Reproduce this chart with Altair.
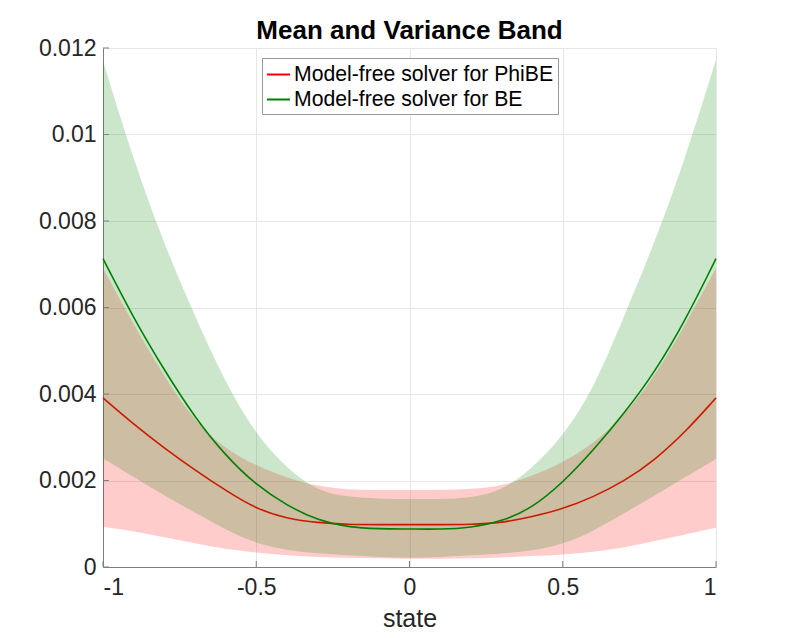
import altair as alt
import pandas as pd

# state grid
x = [-1.0, -0.9, -0.8, -0.7, -0.6, -0.5, -0.4, -0.3, -0.2, -0.1, 0.0,
     0.1, 0.2, 0.3, 0.4, 0.5, 0.6, 0.7, 0.8, 0.9, 1.0]

# Model-free solver for PhiBE
phibe_mean = [0.00391, 0.00330, 0.00275, 0.00224, 0.00177, 0.00134, 0.00112, 0.00102, 0.000985, 0.00098, 0.00098,
              0.00098, 0.000985, 0.00102, 0.00116, 0.00134, 0.00162, 0.00198, 0.00247, 0.00312, 0.00391]
phibe_upper = [0.00691, 0.00560, 0.00440, 0.00335, 0.00272, 0.00234, 0.00206, 0.00186, 0.00179, 0.00178, 0.00178,
               0.00178, 0.00180, 0.00187, 0.00210, 0.00241, 0.00285, 0.00350, 0.00440, 0.00560, 0.00691]
phibe_lower = [0.00093, 0.00083, 0.00069, 0.00055, 0.00041, 0.00033, 0.00027, 0.00023, 0.00021, 0.00020, 0.00019,
               0.00019, 0.00020, 0.00022, 0.00025, 0.00029, 0.00034, 0.00045, 0.00060, 0.00075, 0.00091]

# Model-free solver for BE
be_mean = [0.00713, 0.00575, 0.00455, 0.00345, 0.00257, 0.00189, 0.00142, 0.00108, 0.00092, 0.00088, 0.00088,
           0.00087, 0.00091, 0.00105, 0.00136, 0.00195, 0.00270, 0.00355, 0.00450, 0.00570, 0.00713]
be_upper = [0.01170, 0.00940, 0.00745, 0.00580, 0.00425, 0.00305, 0.00228, 0.00175, 0.00162, 0.00158, 0.00157,
            0.00157, 0.00160, 0.00175, 0.00228, 0.00302, 0.00410, 0.00580, 0.00750, 0.00945, 0.01173]
be_lower = [0.00251, 0.00208, 0.00165, 0.00126, 0.00086, 0.00054, 0.00039, 0.00031, 0.00027, 0.00023, 0.00021,
            0.00023, 0.00027, 0.00031, 0.00037, 0.00052, 0.00083, 0.00124, 0.00165, 0.00208, 0.00250]

series_names = ["Model-free solver for PhiBE", "Model-free solver for BE"]
series_colors = ["#ff0000", "#008000"]

x_ticks = [-1, -0.5, 0, 0.5, 1]
y_ticks = [0, 0.002, 0.004, 0.006, 0.008, 0.01, 0.012]

W, H = 613, 519
FONT = "Liberation Sans"

df = pd.DataFrame({
    "x": x,
    "phibe_mean": phibe_mean, "phibe_upper": phibe_upper, "phibe_lower": phibe_lower,
    "be_mean": be_mean, "be_upper": be_upper, "be_lower": be_lower,
})
df_phibe = pd.DataFrame({"x": x, "y": phibe_mean, "series": series_names[0]})
df_be = pd.DataFrame({"x": x, "y": be_mean, "series": series_names[1]})

xscale = alt.Scale(domain=[-1, 1], nice=False, zero=False)
yscale = alt.Scale(domain=[0, 0.012], nice=False)
xaxis = alt.Axis(values=x_ticks, labelExpr="toString(datum.value)", title="state",
                 grid=True, labelPadding=9, titlePadding=7)
yaxis = alt.Axis(values=y_ticks, format="~g", title=None, grid=True, labelPadding=7)
cscale = alt.Scale(domain=series_names, range=series_colors)

X = alt.X("x:Q", scale=xscale, axis=xaxis)
INTERP = "basis"

red_band = alt.Chart(df).mark_area(color="#ff0000", fillOpacity=0.2, interpolate=INTERP).encode(
    x=X, y=alt.Y("phibe_lower:Q", scale=yscale, axis=yaxis), y2="phibe_upper:Q")
green_band = alt.Chart(df).mark_area(color="#008000", fillOpacity=0.2, interpolate=INTERP).encode(
    x=X, y=alt.Y("be_lower:Q", scale=yscale, axis=yaxis), y2="be_upper:Q")

legend = alt.Legend(orient="none", legendX=159, legendY=10, title=None,
                    strokeColor="#999999", fillColor="#ffffff", padding=4,
                    symbolType="stroke", symbolSize=529, symbolStrokeWidth=2,
                    labelFont=FONT, labelFontSize=21.2, labelColor="#000000",
                    labelOffset=3, rowPadding=2, labelLimit=400)

red_line = alt.Chart(df_phibe).mark_line(strokeWidth=1.6, interpolate=INTERP).encode(
    x=X, y=alt.Y("y:Q", scale=yscale, axis=yaxis),
    color=alt.Color("series:N", scale=cscale, legend=legend))
green_line = alt.Chart(df_be).mark_line(strokeWidth=1.6, interpolate=INTERP).encode(
    x=X, y=alt.Y("y:Q", scale=yscale, axis=yaxis),
    color=alt.Color("series:N", scale=cscale, legend=legend))

xt = alt.Chart(pd.DataFrame({"t": x_ticks})).mark_rule(color="#7f7f7f", strokeWidth=1).encode(
    x=alt.X("t:Q", scale=xscale, axis=xaxis), y=alt.value(H), y2=alt.value(H - 6))
yt = alt.Chart(pd.DataFrame({"t": y_ticks})).mark_rule(color="#7f7f7f", strokeWidth=1).encode(
    y=alt.Y("t:Q", scale=yscale, axis=yaxis), x=alt.value(0), x2=alt.value(6))

chart = alt.layer(red_band, red_line, green_band, green_line, xt, yt).properties(
    width=W, height=H,
    title=alt.TitleParams("Mean and Variance Band", font=FONT, fontSize=26, fontWeight="bold",
                          color="#000000", anchor="middle", frame="group", offset=-7),
    autosize=alt.AutoSizeParams(type="none"),
    padding={"left": 95, "top": 40, "right": 69, "bottom": 70},
).configure_view(strokeWidth=0).configure_axis(
    domainColor="#7f7f7f", domainWidth=1, gridColor="#e6e6e6", gridWidth=1, tickSize=0,
    labelFont=FONT, labelFontSize=23, labelColor="#262626",
    titleFont=FONT, titleFontSize=25, titleFontWeight="normal", titleColor="#262626",
).configure_legend(symbolOpacity=1)

chart.save("out.html", embed_options={"renderer": "svg", "actions": False})
